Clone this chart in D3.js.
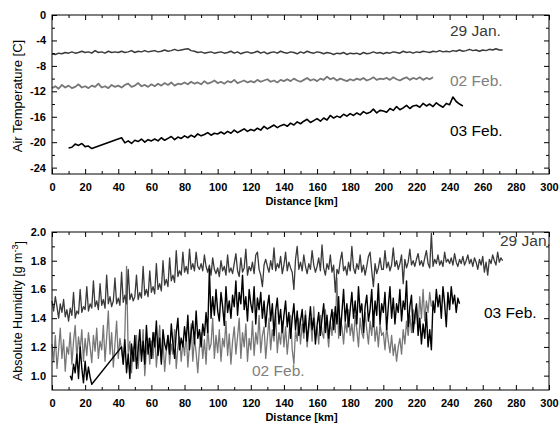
<!DOCTYPE html>
<html>
<head>
<meta charset="utf-8">
<script src="https://cdn.jsdelivr.net/npm/d3@7"></script>
<style>
    body { margin: 0; background: #fff; }
    svg { display: block; font-family: "Liberation Sans", Arial, sans-serif; }
    .tick text { font-size: 11px; font-weight: bold; fill: #000; }
    .tick line { stroke: #000; }
</style>
</head>
<body>
<svg id="chart" width="559" height="424"></svg>
<script>
"use strict";

// distance ticks (km)
var distTicks = [0, 20, 40, 60, 80, 100, 120, 140, 160, 180, 200, 220, 240, 260, 280, 300];
var distMinor = d3.range(10, 300, 20);
var tempTicks = [0, -4, -8, -12, -16, -20, -24];
var tempMinor = [-2, -6, -10, -14, -18, -22];
var humTicks = [1.0, 1.2, 1.4, 1.6, 1.8, 2.0];
var humMinor = [1.1, 1.3, 1.5, 1.7, 1.9];

var labels = ["29 Jan.", "02 Feb.", "03 Feb."];

// air temperature [C], sampled every 2 km
var tempJan29Start = 0;
var tempJan29 = [
    -6.1, -6.2, -6.0, -6.1, -5.9, -6.0, -5.8, -6.0, -5.9, -5.7, -5.9,
    -5.8, -6.0, -5.6, -5.9, -5.8, -6.0, -5.7, -5.9, -5.8, -5.9,
    -5.7, -5.9, -5.8, -5.6, -5.9, -5.7, -5.8, -5.6, -5.8, -5.7,
    -5.6, -5.8, -5.7, -5.5, -5.7, -5.6, -5.4, -5.6, -5.5, -5.4,
    -5.3, -5.6, -5.7, -5.9, -5.8, -6.0, -5.9, -5.8, -6.0, -5.9,
    -5.8, -6.0, -5.9, -5.7, -6.0, -5.8, -6.1, -5.9, -5.8, -6.0,
    -5.9, -5.7, -6.0, -5.8, -6.1, -5.9, -5.8, -6.0, -5.7, -5.9,
    -6.0, -5.8, -5.9, -6.1, -5.8, -6.0, -5.7, -5.9, -6.0, -5.8,
    -5.9, -6.1, -5.9, -6.0, -6.2, -6.0, -6.1, -5.9, -6.2, -6.0,
    -6.1, -6.0, -6.2, -5.9, -6.1, -6.0, -5.8, -6.0, -5.9, -6.1,
    -5.9, -6.0, -5.8, -5.9, -6.0, -5.7, -5.9, -5.8, -6.0, -5.8,
    -5.9, -5.7, -5.8, -5.9, -5.7, -5.8, -5.6, -5.8, -5.7, -5.8,
    -5.6, -5.7, -5.5, -5.7, -5.6, -5.4, -5.6, -5.5, -5.7, -5.5,
    -5.6, -5.4, -5.5, -5.3, -5.5, -5.5
];

var tempFeb02Start = 0;
var tempFeb02 = [
    -11.5, -11.2, -11.6, -11.0, -11.4, -11.1, -11.5, -11.3, -10.9, -11.4, -11.2,
    -11.5, -11.1, -11.3, -10.8, -11.4, -11.2, -11.5, -11.0, -11.3, -11.1,
    -11.4, -11.0, -10.8, -11.3, -11.1, -10.7, -11.2, -11.0, -11.3, -10.9,
    -11.2, -10.8, -11.1, -10.7, -11.0, -10.6, -11.1, -10.8, -10.9, -10.6,
    -10.9, -10.5, -10.8, -10.6, -10.9, -10.4, -10.8, -10.6, -10.3, -10.7,
    -10.5, -10.8, -10.4, -10.6, -10.2, -10.7, -10.5, -10.3, -10.6, -10.4,
    -10.6, -10.2, -10.5, -10.3, -10.1, -10.5, -10.3, -10.6, -10.2, -10.4,
    -10.1, -10.4, -10.0, -10.3, -10.5, -10.2, -9.9, -10.3, -10.1, -10.4,
    -10.0, -10.2, -9.7, -10.1, -9.9, -10.3, -10.0, -10.2, -10.4, -10.1,
    -10.3, -10.0, -10.2, -9.9, -10.3, -10.1, -9.8, -10.2, -10.0, -10.1,
    -9.9, -10.2, -9.8, -10.1, -10.3, -10.0, -9.8, -10.2, -9.9, -10.1,
    -9.8, -10.2, -9.9, -10.1, -9.8
];

// 03 Feb has a data gap between 24 and 42 km
var tempFeb03aStart = 10;
var tempFeb03a = [-20.9, -20.8, -20.3, -20.5, -20.2, -20.7, -20.6, -21.0];
var tempFeb03bStart = 42;
var tempFeb03b = [
    -19.3, -20.1, -19.8, -20.2, -19.7, -19.9, -19.5, -20.0, -19.6, -19.8,
    -19.5, -19.8, -19.3, -19.7, -19.4, -19.1, -19.6, -19.2, -19.4, -19.0,
    -19.3, -18.9, -19.2, -18.7, -19.0, -18.8, -18.5, -18.9, -18.6, -18.7,
    -18.4, -18.7, -18.3, -18.6, -18.1, -18.5, -18.2, -17.9, -18.3, -18.0,
    -18.2, -17.8, -18.1, -17.5, -17.9, -17.6, -17.3, -17.7, -17.4, -17.2,
    -17.5, -17.0, -17.3, -16.8, -17.1, -16.7, -16.4, -16.9, -16.6, -16.3,
    -16.7, -16.2, -16.5, -15.8, -16.2, -15.9, -16.1, -15.6, -15.9, -15.5,
    -15.8, -15.4, -15.7, -15.2, -15.5, -15.3, -14.8, -15.4, -15.0, -15.1,
    -15.3, -14.7, -15.0, -14.4, -14.9, -14.6, -14.2, -14.7, -14.3, -14.2,
    -14.5, -13.9, -14.3, -14.0, -14.4, -13.8, -14.2, -14.5, -13.9, -14.1,
    -12.9, -13.6, -14.0, -14.3
];
var tempStep = 2;

// absolute humidity [g m-3], sampled every 1 km
var humJan29Start = 0;
var humJan29 = [
    1.52, 1.45, 1.55, 1.48, 1.40, 1.50, 1.44, 1.53, 1.41, 1.46,
    1.38, 1.47, 1.42, 1.58, 1.40, 1.45, 1.43, 1.60, 1.44, 1.48,
    1.46, 1.62, 1.45, 1.50, 1.47, 1.66, 1.48, 1.52, 1.46, 1.64,
    1.49, 1.53, 1.47, 1.70, 1.50, 1.55, 1.48, 1.52, 1.68, 1.50,
    1.54, 1.49, 1.72, 1.51, 1.56, 1.50, 1.74, 1.53, 1.57, 1.52,
    1.55, 1.70, 1.53, 1.58, 1.54, 1.76, 1.56, 1.60, 1.55, 1.73,
    1.58, 1.62, 1.57, 1.78, 1.60, 1.64, 1.59, 1.80, 1.63, 1.67,
    1.62, 1.82, 1.66, 1.70, 1.65, 1.87, 1.69, 1.73, 1.70, 1.86,
    1.72, 1.76, 1.71, 1.88, 1.74, 1.78, 1.73, 1.86, 1.76, 1.74,
    1.78, 1.73, 1.84, 1.76, 1.72, 1.77, 1.70, 1.82, 1.74, 1.71,
    1.75, 1.69, 1.80, 1.73, 1.76, 1.70, 1.84, 1.72, 1.75, 1.71,
    1.78, 1.85, 1.73, 1.69, 1.82, 1.72, 1.75, 1.88, 1.70, 1.76,
    1.73, 1.79, 1.71, 1.84, 1.86, 1.74, 1.70, 1.62, 1.77, 1.81,
    1.76, 1.72, 1.80, 1.74, 1.89, 1.73, 1.78, 1.75, 1.83, 1.71,
    1.77, 1.86, 1.73, 1.79, 1.75, 1.72, 1.60, 1.81, 1.90, 1.74,
    1.79, 1.73, 1.84, 1.76, 1.71, 1.78, 1.74, 1.87, 1.77, 1.72,
    1.76, 1.82, 1.73, 1.91, 1.75, 1.70, 1.78, 1.74, 1.84, 1.72,
    1.77, 1.58, 1.74, 1.71, 1.80, 1.86, 1.73, 1.76, 1.70, 1.79,
    1.73, 1.90, 1.75, 1.71, 1.78, 1.74, 1.84, 1.72, 1.77, 1.70,
    1.76, 1.83, 1.86, 1.73, 1.62, 1.78, 1.71, 1.75, 1.82, 1.74,
    1.74, 1.87, 1.75, 1.79, 1.73, 1.77, 1.89, 1.76, 1.80, 1.74,
    1.78, 1.84, 1.64, 1.81, 1.75, 1.79, 1.88, 1.77, 1.80, 1.76,
    1.81, 1.85, 1.77, 1.80, 1.76, 1.82, 1.87, 1.78, 1.75, 1.99,
    1.76, 1.81, 1.78, 1.84, 1.77, 1.80, 1.76, 1.86, 1.79, 1.81,
    1.78, 1.82, 1.77, 1.85, 1.79, 1.76, 1.81, 1.78, 1.83, 1.77,
    1.80, 1.84, 1.78, 1.81, 1.76, 1.82, 1.79, 1.74, 1.81, 1.77,
    1.83, 1.72, 1.79, 1.70, 1.81, 1.78, 1.84, 1.80, 1.77, 1.86,
    1.79, 1.82, 1.80
];

var humFeb02Start = 0;
var humFeb02 = [
    1.22, 1.10, 1.28, 1.05, 1.18, 1.33, 1.12, 1.25, 1.03, 1.20,
    1.15, 1.30, 1.08, 1.24, 1.35, 1.12, 1.27, 1.18, 1.32, 1.10,
    1.26, 1.14, 1.30, 1.20, 1.09, 1.28, 1.17, 1.33, 1.12, 1.24,
    1.18, 1.35, 1.10, 1.27, 1.45, 1.15, 1.30, 1.06, 1.22, 1.38,
    1.12, 1.26, 1.18, 1.08, 1.30, 1.76, 1.15, 1.24, 1.02, 1.20,
    1.10, 1.28, 1.05, 1.22, 1.14, 1.32, 1.00, 1.18, 1.26, 1.08,
    1.24, 1.12, 1.30, 1.06, 1.20, 1.35, 1.10, 1.25, 1.03, 1.18,
    1.28, 1.08, 1.22, 1.15, 1.32, 1.05, 1.20, 1.27, 1.10, 1.24,
    1.14, 1.30, 1.06, 1.22, 1.36, 1.10, 1.26, 1.16, 1.02, 1.20,
    1.30, 1.12, 1.25, 1.08, 1.34, 1.18, 1.22, 1.40, 1.12, 1.28,
    1.16, 1.32, 1.10, 1.26, 1.20, 1.38, 1.14, 1.29, 1.08, 1.24,
    1.34, 1.15, 1.27, 1.40, 1.12, 1.30, 1.20, 1.36, 1.10, 1.26,
    1.18, 1.38, 1.14, 1.30, 1.22, 1.42, 1.16, 1.28, 1.34, 1.12,
    1.26, 1.40, 1.18, 1.32, 1.24, 1.44, 1.16, 1.30, 1.22, 1.38,
    1.20, 1.34, 1.15, 1.28, 1.42, 1.18, 1.08, 1.32, 1.24, 1.40,
    1.22, 1.36, 1.26, 1.45, 1.20, 1.32, 1.40, 1.24, 1.48, 1.28,
    1.34, 1.22, 1.42, 1.30, 1.26, 1.46, 1.32, 1.20, 1.38, 1.28,
    1.44, 1.30, 1.68, 1.26, 1.40, 1.34, 1.22, 1.38, 1.30, 1.46,
    1.28, 1.36, 1.24, 1.42, 1.32, 1.20, 1.40, 1.30, 1.26, 1.44,
    1.32, 1.22, 1.38, 1.28, 1.45, 1.24, 1.34, 1.20, 1.36, 1.28,
    1.30, 1.18, 1.34, 1.24, 1.16, 1.28, 1.14, 1.22, 1.10, 1.20,
    1.26, 1.15, 1.32, 1.22, 1.38, 1.28, 1.42, 1.30, 1.46, 1.36,
    1.48, 1.34, 1.55, 1.40, 1.60, 1.38, 1.52, 1.44, 1.58, 1.48
];

var humFeb03aStart = 11;
var humFeb03a = [1.00, 0.97, 1.08, 1.02, 1.15, 0.98, 1.20, 1.05, 0.95, 1.10, 0.97, 1.06, 0.99, 0.94];
var humFeb03bStart = 42;
var humFeb03b = [
    1.20, 1.08, 1.25, 1.02, 1.15, 0.98, 1.22, 1.10,
    1.28, 1.05, 1.18, 1.32, 1.10, 1.24, 1.08, 1.35, 1.15, 1.26,
    1.12, 1.30, 1.20, 1.38, 1.14, 1.26, 1.08, 1.32, 1.22, 1.18,
    1.28, 1.15, 1.36, 1.22, 1.12, 1.30, 1.40, 1.18, 1.26, 1.20,
    1.34, 1.24, 1.42, 1.18, 1.30, 1.38, 1.22, 1.45, 1.26, 1.32,
    1.20, 1.36, 1.28, 1.44, 1.30, 1.74, 1.40, 1.55, 1.42, 1.60,
    1.45, 1.38, 1.58, 1.48, 1.35, 1.62, 1.44, 1.52, 1.40, 1.56,
    1.48, 1.66, 1.42, 1.58, 1.50, 1.70, 1.46, 1.55, 1.38, 1.60,
    1.50, 1.44, 1.62, 1.36, 1.54, 1.46, 1.58, 1.40, 1.52, 1.34,
    1.48, 1.56, 1.38, 1.50, 1.28, 1.45, 1.54, 1.36, 1.46, 1.30,
    1.42, 1.52, 1.34, 1.44, 1.26, 1.40, 1.50, 1.32, 1.45, 1.28,
    1.38, 1.46, 1.30, 1.42, 1.24, 1.36, 1.48, 1.32, 1.40, 1.22,
    1.35, 1.44, 1.28, 1.40, 1.50, 1.30, 1.42, 1.26, 1.38, 1.46,
    1.32, 1.48, 1.36, 1.55, 1.28, 1.44, 1.60, 1.38, 1.50, 1.34,
    1.46, 1.58, 1.40, 1.52, 1.36, 1.62, 1.44, 1.50, 1.30, 1.48,
    1.56, 1.38, 1.46, 1.60, 1.34, 1.52, 1.42, 1.64, 1.36, 1.50,
    1.44, 1.58, 1.32, 1.48, 1.62, 1.40, 1.54, 1.36, 1.50, 1.44,
    1.60, 1.38, 1.52, 1.46, 1.66, 1.34, 1.48, 1.56, 1.30, 1.42,
    1.50, 1.28, 1.40, 1.22, 1.36, 1.26, 1.44, 1.20, 1.32, 1.18,
    1.52, 1.44, 1.60, 1.48, 1.56, 1.40, 1.62, 1.50, 1.34, 1.58,
    1.46, 1.62, 1.50, 1.56, 1.44, 1.54, 1.50
];
var humStep = 1;

var colors = {jan29: "#3a3a3a", feb02: "#777777", feb03: "#000000"};

var LEFT = 52, RIGHT = 549;
var svg = d3.select("#chart");

function toPoints(start, step, values) {
    return values.map(function(v, i) {
        return {km: start + i * step, v: v};
    });
}

var x = d3.scaleLinear().domain([0, 300]).range([LEFT, RIGHT]);

function drawPanel(cfg) {
    var y = d3.scaleLinear().domain(cfg.domain).range([cfg.bottom, cfg.top]);
    var g = svg.append("g");

    var line = d3.line()
        .x(function(d) { return x(d.km); })
        .y(function(d) { return y(d.v); });

    cfg.series.forEach(function(s) {
        g.append("path")
            .datum(s.points)
            .attr("fill", "none")
            .attr("stroke", s.color)
            .attr("stroke-width", s.width)
            .attr("stroke-linejoin", "round")
            .attr("d", line);
    });

    function addAxis(axis, tx, ty) {
        var a = g.append("g")
            .attr("transform", "translate(" + tx + "," + ty + ")")
            .call(axis);
        a.select(".domain").remove();
        return a;
    }

    // major and minor ticks on all four sides, pointing inward
    addAxis(d3.axisBottom(x).tickValues(distTicks).tickSize(-5).tickPadding(9)
        .tickFormat(function(d) { return String(d); }), 0, cfg.bottom);
    addAxis(d3.axisBottom(x).tickValues(distMinor).tickSize(-3).tickFormat(""), 0, cfg.bottom);
    addAxis(d3.axisTop(x).tickValues(distTicks).tickSize(-5).tickFormat(""), 0, cfg.top);
    addAxis(d3.axisTop(x).tickValues(distMinor).tickSize(-3).tickFormat(""), 0, cfg.top);
    addAxis(d3.axisLeft(y).tickValues(cfg.ticks).tickSize(-5).tickPadding(6)
        .tickFormat(cfg.format), LEFT, 0);
    addAxis(d3.axisLeft(y).tickValues(cfg.minor).tickSize(-3).tickFormat(""), LEFT, 0);
    addAxis(d3.axisRight(y).tickValues(cfg.ticks).tickSize(-5).tickFormat(""), RIGHT, 0);
    addAxis(d3.axisRight(y).tickValues(cfg.minor).tickSize(-3).tickFormat(""), RIGHT, 0);

    g.append("rect")
        .attr("x", LEFT)
        .attr("y", cfg.top)
        .attr("width", RIGHT - LEFT)
        .attr("height", cfg.bottom - cfg.top)
        .attr("fill", "none")
        .attr("stroke", "#000")
        .attr("stroke-width", 1);

    g.append("text")
        .attr("x", (LEFT + RIGHT) / 2 + 1)
        .attr("y", cfg.bottom + 31)
        .attr("text-anchor", "middle")
        .style("font-size", "11px")
        .style("font-weight", "bold")
        .text("Distance [km]");

    var yl = g.append("text")
        .attr("transform", "translate(22," + cfg.labelY + ") rotate(-90)")
        .attr("text-anchor", "middle")
        .style("font-size", cfg.labelSize);
    cfg.ylabel(yl);

    cfg.notes.forEach(function(n) {
        g.append("text")
            .attr("x", n.x)
            .attr("y", n.y)
            .attr("fill", n.color)
            .style("font-size", "15.5px")
            .text(n.text);
    });
}

drawPanel({
    top: 15,
    bottom: 174,
    domain: [-25, 0],
    ticks: tempTicks,
    minor: tempMinor,
    format: function(d) { return String(d); },
    labelY: 96,
    labelSize: "13px",
    ylabel: function(t) { t.text("Air Temperature [C]"); },
    series: [
        {color: colors.jan29, width: 1.5, points: toPoints(tempJan29Start, tempStep, tempJan29)},
        {color: colors.feb02, width: 1.8, points: toPoints(tempFeb02Start, tempStep, tempFeb02)},
        {color: colors.feb03, width: 1.6, points: toPoints(tempFeb03aStart, tempStep, tempFeb03a)
            .concat(toPoints(tempFeb03bStart, tempStep, tempFeb03b))}
    ],
    notes: [
        {text: labels[0], x: 450, y: 36, color: "#3a3a3a"},
        {text: labels[1], x: 450, y: 86, color: "#808080"},
        {text: labels[2], x: 450, y: 136, color: "#000"}
    ]
});

drawPanel({
    top: 232,
    bottom: 390,
    domain: [0.9, 2.0],
    ticks: humTicks,
    minor: humMinor,
    format: d3.format(".1f"),
    labelY: 311,
    labelSize: "12.5px",
    ylabel: function(t) {
        t.append("tspan").text("Absolute Humidity [g m");
        t.append("tspan").attr("dy", "-0.45em").style("font-size", "9px").text("-3");
        t.append("tspan").attr("dy", "0.45em").text("]");
    },
    series: [
        {color: colors.feb02, width: 1.3, points: toPoints(humFeb02Start, humStep, humFeb02)},
        {color: colors.jan29, width: 1.3, points: toPoints(humJan29Start, humStep, humJan29)},
        {color: colors.feb03, width: 1.4, points: toPoints(humFeb03aStart, humStep, humFeb03a)
            .concat(toPoints(humFeb03bStart, humStep, humFeb03b))}
    ],
    notes: [
        {text: labels[0], x: 500, y: 246, color: "#3a3a3a"},
        {text: labels[1], x: 252, y: 376, color: "#808080"},
        {text: labels[2], x: 484, y: 318, color: "#000"}
    ]
});
</script>
</body>
</html>
